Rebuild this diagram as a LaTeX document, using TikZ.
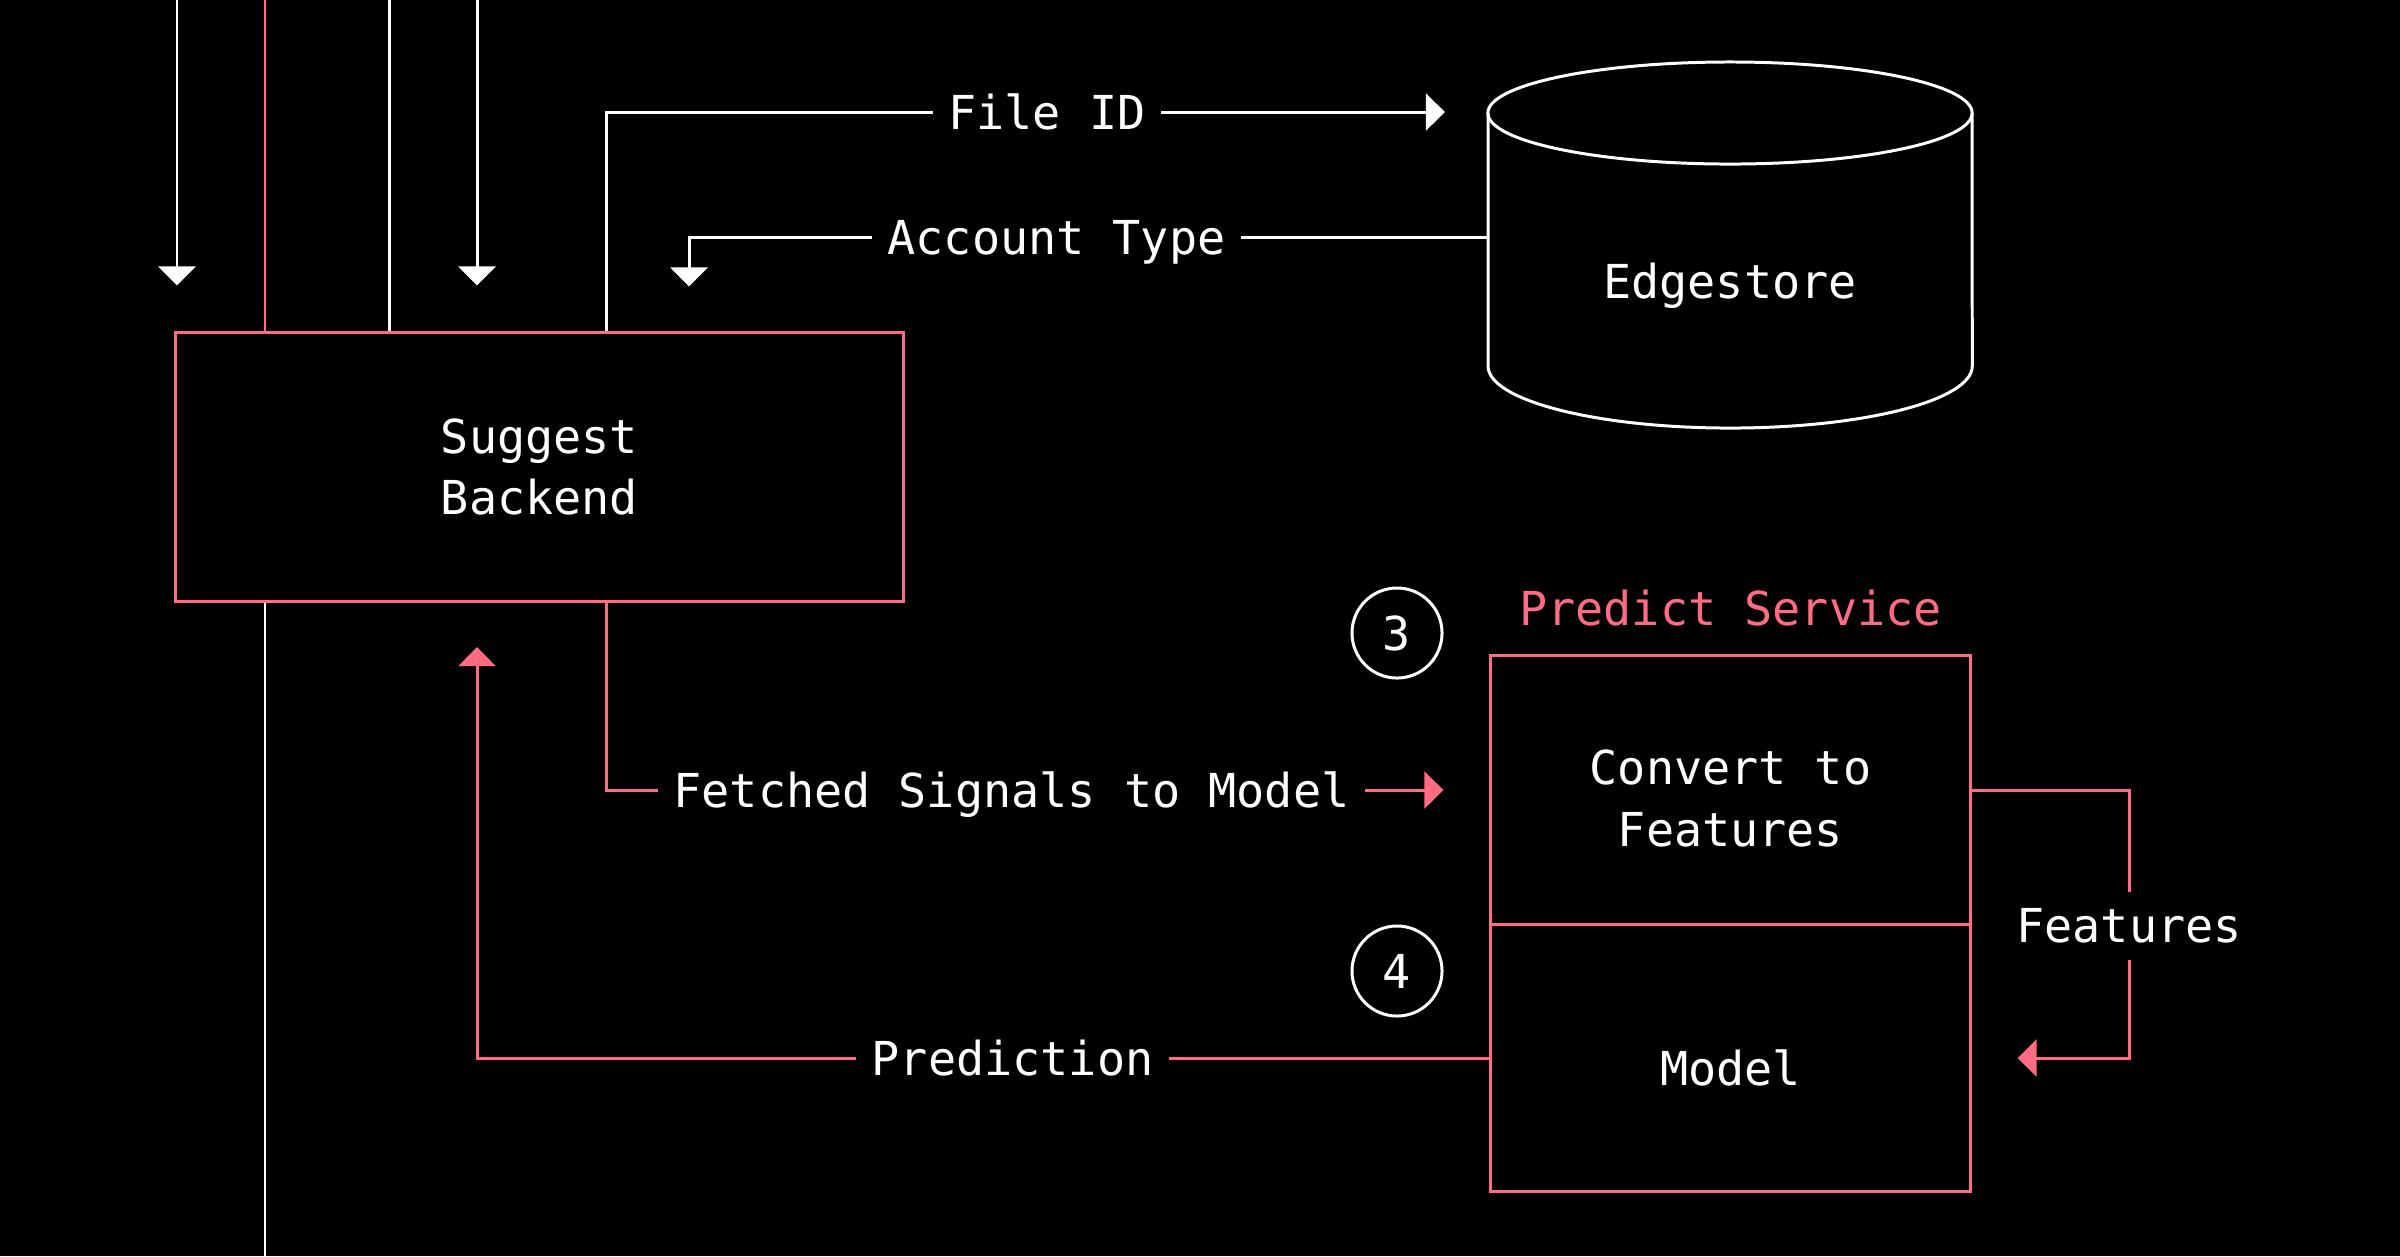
\documentclass[tikz,border=0pt]{standalone}
\usepackage{fontspec}
\setmainfont{DejaVu Sans Mono}
\usetikzlibrary{arrows.meta}
\definecolor{suggestpink}{RGB}{255,107,129}

\begin{document}
\begin{tikzpicture}[x=0.01cm, y=-0.01cm, font=\fontsize{13.3}{17.6}\selectfont]
        % Common styles
        \tikzstyle{wire}=[white, line width=0.85pt]
        \tikzstyle{pwire}=[suggestpink, line width=0.85pt]
        \tikzstyle{arrowend}=[-{Triangle[length=0.19cm, width=0.37cm]}]
        \tikzstyle{pinkbox}=[draw=suggestpink, line width=0.85pt, text=white, align=center, inner sep=0pt]
        \tikzstyle{numcircle}=[circle, draw=white, line width=0.85pt, text=white, minimum size=0.9cm, inner sep=0pt]
        \tikzstyle{lbl}=[fill=black, text=white, inner xsep=4.5pt, inner ysep=4.8pt, text height=9.7pt, text depth=0pt]

        % Background
        \fill[black] (0,0) rectangle (2400,1256);
        \useasboundingbox (0,0) rectangle (2400,1256);

        % --- Suggest Backend ---
        \node[pinkbox, minimum width=7.27cm, minimum height=2.68cm] (backend) at (539.5,467) {Suggest\\Backend};

        % --- Edgestore (cylinder) ---
        \draw[wire] (1730,113) ellipse [x radius=2.42cm, y radius=0.51cm];
        \draw[wire] (1488,113) -- (1488,366) arc[start angle=180, end angle=360, x radius=2.42cm, y radius=0.62cm] -- (1972,113);
        \node[text=white, minimum width=4.84cm, inner sep=0pt, outer sep=0pt] (edgestore) at (1730,286) {Edgestore};

        % --- Predict Service ---
        \node[anchor=base, text=suggestpink] (predictsvc) at (1730.5,625) {Predict Service};
        \node[pinkbox, minimum width=4.79cm, minimum height=2.695cm] (convert) at (1730.5,790) {\rule{0pt}{14.8pt}Convert to\\Features};
        \node[pinkbox, minimum width=4.79cm, minimum height=2.675cm, text height=15.8pt, text depth=0pt] (model) at (1730.5,1058) {Model};

        % Step markers
        \node[numcircle] (step3) at (1397,633) {3};
        \node[numcircle] (step4) at (1397,971) {4};

        % --- Lines from above ---
        \coordinate (in1) at (177,0);
        \coordinate (in2) at (265,0);
        \coordinate (in3) at (389,0);
        \coordinate (in4) at (477,0);
        \coordinate (out1) at (265,1256);
        \draw[wire, arrowend, shorten >=0.46cm] (in1) -- (in1 |- backend.north);
        \draw[pwire] (in2) -- (in2 |- backend.north);
        \draw[wire] (in3) -- (in3 |- backend.north);
        \draw[wire, arrowend, shorten >=0.46cm] (in4) -- (in4 |- backend.north);
        \draw[wire] (in2 |- backend.south) -- (out1);

        % --- Backend <-> Edgestore ---
        \coordinate (fileid) at (606,112);
        \coordinate (acctype) at (689,237);
        \draw[wire, arrowend, shorten >=0.43cm] (fileid |- backend.north) -- (fileid) -- node[lbl, pos=0.5] {File ID} (fileid -| edgestore.west);
        \draw[wire, arrowend, shorten >=0.45cm] (acctype -| edgestore.west) -- node[lbl, pos=0.54] {Account Type} (acctype) -- (acctype |- backend.north);

        % --- Backend <-> Predict Service ---
        \coordinate (fetched) at (606,790);
        \coordinate (pred) at (477,0);
        \draw[pwire, arrowend, shorten >=0.46cm] (fetched |- backend.south) -- (fetched) -- node[lbl, pos=0.459] {Fetched Signals to Model} (fetched -| convert.west);
        \draw[pwire, arrowend, shorten >=0.445cm] (model.west) -- node[lbl, pos=0.471] {Prediction} (model.west -| pred) -- (pred |- backend.south);

        % Features loop
        \coordinate (feat) at (2129,0);
        \draw[pwire, arrowend, shorten >=0.46cm] (convert.east) -- (convert.east -| feat) -- node[lbl, pos=0.507] {Features} (model.east -| feat) -- (model.east);

\end{tikzpicture}
\end{document}
